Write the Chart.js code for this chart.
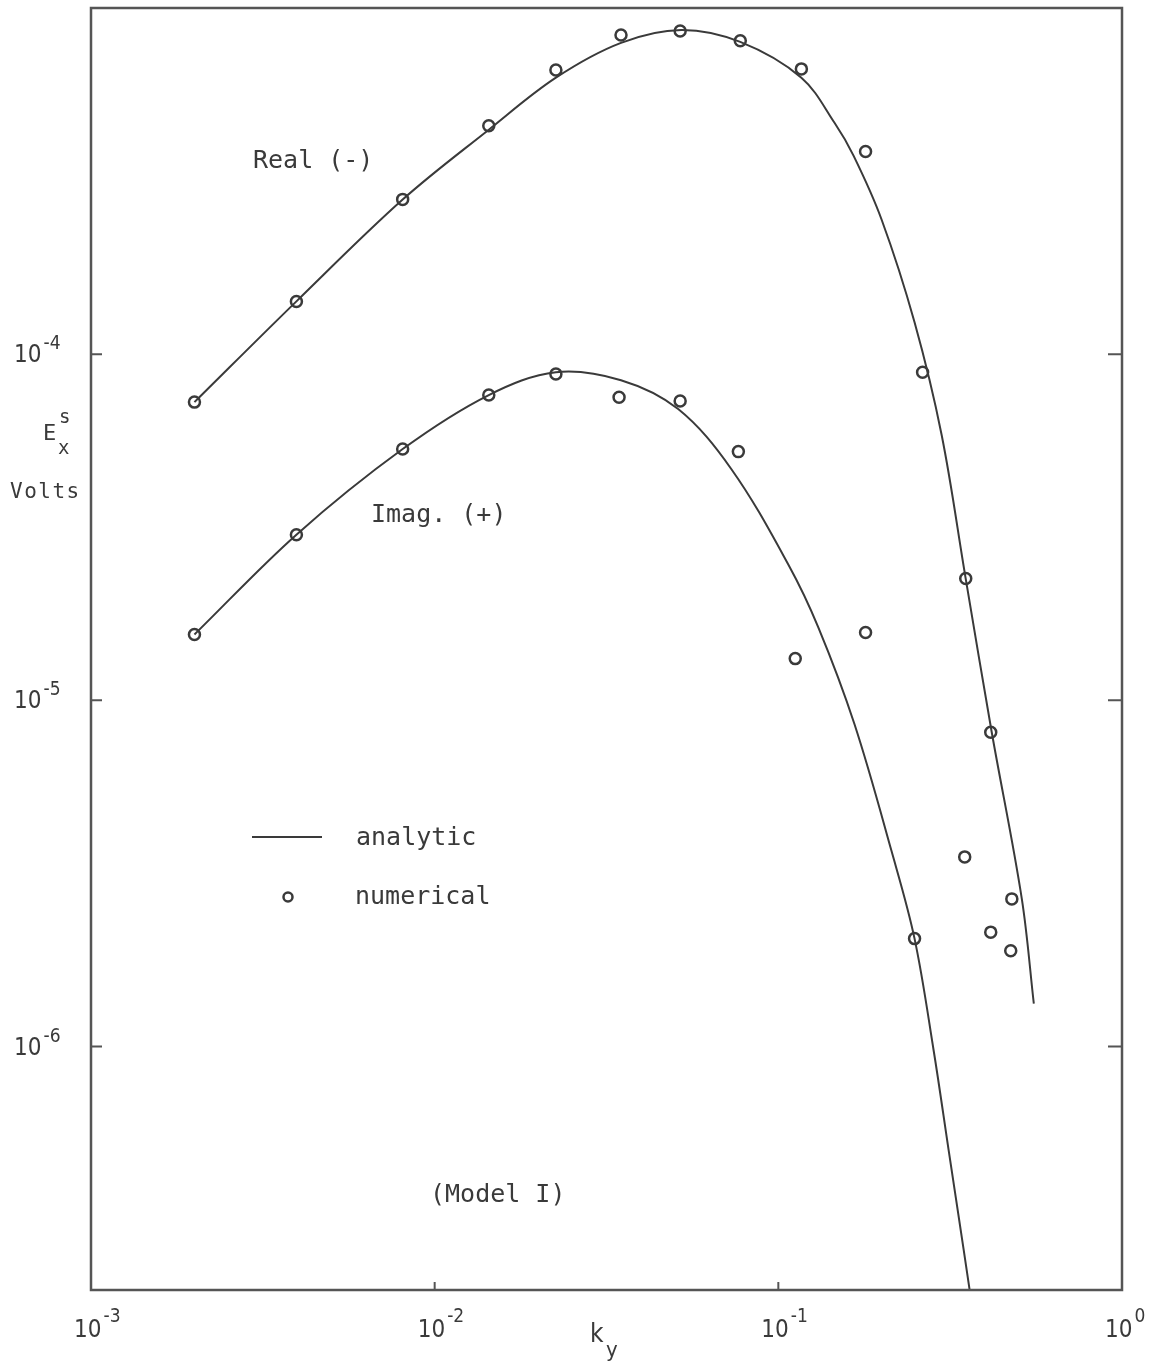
<!DOCTYPE html>
<html>
<head>
<meta charset="utf-8">
<title>E_x^s vs k_y (Model I)</title>
<script src="https://cdn.jsdelivr.net/npm/chart.js@4/dist/chart.umd.min.js"></script>
<style>
  html, body { margin: 0; padding: 0; background: #fff; }
  #wrap { width: 1158px; height: 1362px; }
</style>
</head>
<body>
<div id="wrap"><canvas id="chart" width="1158" height="1362"></canvas></div>
<script>
// analytic curves (solid lines)
const kyAnalyticReal = [0.0020, 0.00396, 0.00807, 0.01437, 0.02253, 0.03485, 0.05216, 0.07748, 0.1167, 0.1457, 0.1655, 0.1997, 0.2491, 0.2987, 0.3509, 0.4178, 0.5111, 0.5539];
const exAnalyticReal = [7.27e-5, 1.421e-4, 2.797e-4, 4.45e-4, 6.29e-4, 7.93e-4, 8.64e-4, 7.98e-4, 6.29e-4, 4.66e-4, 3.745e-4, 2.449e-4, 1.236e-4, 5.84e-5, 2.247e-5, 8.09e-6, 2.67e-6, 1.33e-6];

const kyAnalyticImag = [0.0020, 0.00396, 0.00807, 0.01437, 0.02253, 0.03485, 0.05112, 0.07295, 0.1070, 0.1308, 0.1666, 0.2135, 0.2491, 0.2831, 0.3130, 0.3463, 0.3628];
const exAnalyticImag = [1.55e-5, 3.01e-5, 5.32e-5, 7.62e-5, 8.87e-5, 8.41e-5, 6.94e-5, 4.66e-5, 2.465e-5, 1.623e-5, 8.53e-6, 3.67e-6, 2.05e-6, 9.74e-7, 5.02e-7, 2.58e-7, 1.89e-7];

// numerical results (open circles)
const kyNumReal = [0.0020, 0.00396, 0.00807, 0.01437, 0.02253, 0.03485, 0.0518, 0.0775, 0.1167, 0.1794, 0.2629, 0.351, 0.415, 0.478];
const exNumReal = [7.27e-5, 1.42e-4, 2.80e-4, 4.57e-4, 6.62e-4, 8.36e-4, 8.58e-4, 8.04e-4, 6.67e-4, 3.85e-4, 8.87e-5, 2.25e-5, 8.09e-6, 2.67e-6];

const kyNumImag = [0.0020, 0.00396, 0.00807, 0.01437, 0.02253, 0.0344, 0.0518, 0.0765, 0.1120, 0.1794, 0.2491, 0.3486, 0.415, 0.4745];
const exNumImag = [1.55e-5, 3.01e-5, 5.32e-5, 7.62e-5, 8.76e-5, 7.51e-5, 7.32e-5, 5.23e-5, 1.32e-5, 1.57e-5, 2.05e-6, 3.53e-6, 2.14e-6, 1.89e-6];

// decade ticks
const xTickValues = [1e-3, 1e-2, 1e-1, 1];
const xTickExp = ["-3", "-2", "-1", "0"];
const yTickValues = [1e-6, 1e-5, 1e-4];
const yTickExp = ["-6", "-5", "-4"];

const ink = "#3a3a3a";
const tickFont = '"Liberation Sans Narrow", "DejaVu Sans Condensed", "Liberation Sans", sans-serif';
const textFont = '"DejaVu Sans Mono", "Liberation Mono", monospace';

const toPoints = (xs, ys) => xs.map((v, i) => ({ x: v, y: ys[i] }));

function powerOfTen(ctx, exp, left, baseline, size, expSize, lift) {
  ctx.font = size + "px " + tickFont;
  ctx.textAlign = "left";
  ctx.fillText("10", left, baseline);
  const w = ctx.measureText("10").width;
  ctx.font = expSize + "px " + tickFont;
  ctx.fillText(exp, left + w + 2, baseline - lift);
}

// frame, inward ticks, labels and notes
const frame = {
  id: "frame",
  afterDraw(chart) {
    const { ctx, chartArea: a, scales: { x, y } } = chart;
    ctx.save();
    ctx.strokeStyle = "#555";
    ctx.fillStyle = ink;
    ctx.lineWidth = 2.5;
    ctx.strokeRect(a.left, a.top, a.right - a.left, a.bottom - a.top);

    ctx.lineWidth = 2;
    yTickValues.forEach((v, i) => {
      const py = y.getPixelForValue(v);
      ctx.beginPath();
      ctx.moveTo(a.left, py); ctx.lineTo(a.left + 11, py);
      ctx.moveTo(a.right, py); ctx.lineTo(a.right - 14, py);
      ctx.stroke();
      powerOfTen(ctx, yTickExp[i], 14, py + 8, 24, 19, 13);
    });
    xTickValues.forEach((v, i) => {
      const px = x.getPixelForValue(v);
      if (i > 0 && i < xTickValues.length - 1) {
        ctx.beginPath();
        ctx.moveTo(px, a.bottom); ctx.lineTo(px, a.bottom - 8);
        ctx.stroke();
      }
      powerOfTen(ctx, xTickExp[i], px - 17, a.bottom + 47, 24, 19, 15);
    });

    // axis titles
    ctx.font = "26px " + tickFont;
    ctx.fillText("k", 590, 1342);
    ctx.font = "22px " + tickFont;
    ctx.fillText("y", 606, 1357);

    ctx.font = "22px " + textFont;
    ctx.fillText("E", 43, 440);
    ctx.font = "19px " + textFont;
    ctx.fillText("s", 59, 423);
    ctx.fillText("x", 58, 454);
    ctx.font = "21px " + textFont;
    if ("letterSpacing" in ctx) ctx.letterSpacing = "1.5px";
    ctx.fillText("Volts", 10, 498);
    if ("letterSpacing" in ctx) ctx.letterSpacing = "0px";

    // notes inside the frame
    ctx.font = "25px " + textFont;
    ctx.fillText("Real (-)", 253, 168);
    ctx.fillText("Imag. (+)", 371, 522);
    ctx.fillText("(Model I)", 430, 1202);
    ctx.fillText("analytic", 356, 845);
    ctx.fillText("numerical", 355, 904);

    // key
    ctx.strokeStyle = ink;
    ctx.lineWidth = 2;
    ctx.beginPath();
    ctx.moveTo(252, 837); ctx.lineTo(322, 837);
    ctx.stroke();
    ctx.lineWidth = 2.5;
    ctx.beginPath();
    ctx.arc(288, 897, 4.5, 0, Math.PI * 2);
    ctx.stroke();
    ctx.restore();
  }
};

const lineStyle = {
  showLine: true,
  borderColor: ink,
  borderWidth: 2,
  pointRadius: 0,
  tension: 0.35,
  fill: false,
};
const dotStyle = {
  showLine: false,
  borderColor: ink,
  backgroundColor: "#fff",
  borderWidth: 2.5,
  pointRadius: 5.5,
};

new Chart(document.getElementById("chart").getContext("2d"), {
  type: "scatter",
  data: {
    datasets: [
      { label: "analytic Real (-)", data: toPoints(kyAnalyticReal, exAnalyticReal), ...lineStyle },
      { label: "analytic Imag. (+)", data: toPoints(kyAnalyticImag, exAnalyticImag), ...lineStyle },
      { label: "numerical Real (-)", data: toPoints(kyNumReal, exNumReal), ...dotStyle },
      { label: "numerical Imag. (+)", data: toPoints(kyNumImag, exNumImag), ...dotStyle },
    ],
  },
  options: {
    responsive: false,
    animation: false,
    layout: { padding: { left: 91, top: 5, right: 36, bottom: 72 } },
    plugins: { legend: { display: false }, tooltip: { enabled: false } },
    scales: {
      x: { type: "logarithmic", min: 1e-3, max: 1, display: false },
      y: { type: "logarithmic", min: 1.98e-7, max: 1e-3, display: false },
    },
  },
  plugins: [frame],
});
</script>
</body>
</html>
